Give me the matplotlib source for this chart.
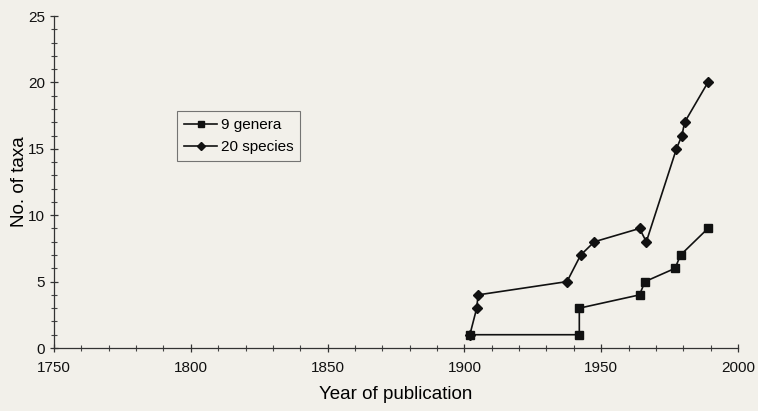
import matplotlib.pyplot as plt
from matplotlib.ticker import MultipleLocator

plt.rcParams['font.family'] = ['Liberation Sans', 'DejaVu Sans']

# cumulative counts by year of publication
genera_years = [1902, 1942, 1942, 1964, 1966, 1977, 1979, 1989]
genera_counts = [1, 1, 3, 4, 5, 6, 7, 9]

species_years = [1902, 1904.5, 1905, 1937.5, 1942.5, 1947.5, 1964, 1966.5,
                 1977.5, 1979.5, 1980.5, 1989]
species_counts = [1, 3, 4, 5, 7, 8, 9, 8, 15, 16, 17, 20]

bg = '#f2f0ea'
fig = plt.figure(figsize=(7.58, 4.11), dpi=100, facecolor=bg)
ax = fig.add_axes([54 / 758, 63 / 411, 684 / 758, 332 / 411], facecolor=bg)

ax.plot(species_years, species_counts, color='#111111', lw=1.2,
        marker='D', ms=4.6, label='20 species', zorder=2)
ax.plot(genera_years, genera_counts, color='#111111', lw=1.2,
        marker='s', ms=5.6, label='9 genera', zorder=3)

ax.set_xlim(1750, 2000)
ax.set_ylim(0, 25)
ax.xaxis.set_major_locator(MultipleLocator(50))
ax.xaxis.set_minor_locator(MultipleLocator(10))
ax.yaxis.set_major_locator(MultipleLocator(5))
ax.yaxis.set_minor_locator(MultipleLocator(1))
ax.tick_params(which='major', direction='inout', length=6, width=0.9,
               colors='#333333', labelsize=11, labelcolor='#111111')
ax.tick_params(which='minor', direction='inout', length=4, width=0.8,
               colors='#444444')
ax.tick_params(axis='x', pad=6)

for s in ['top', 'right']:
    ax.spines[s].set_visible(False)
for s in ['left', 'bottom']:
    ax.spines[s].set_color('#333333')
    ax.spines[s].set_linewidth(0.9)

ax.set_xlabel('Year of publication', fontsize=13.5, labelpad=8)
ax.set_ylabel('No. of taxa', fontsize=13.5, labelpad=0)

handles, labels = ax.get_legend_handles_labels()
leg = ax.legend(handles[::-1], labels[::-1], loc='upper left',
                bbox_to_anchor=((177 - 54) / 684, (348 - 111) / 332),
                fontsize=11, frameon=True, fancybox=False, handlelength=2.2,
                handletextpad=0.2, borderpad=0.45, borderaxespad=0,
                labelspacing=0.55, markerscale=0.8)
leg.get_frame().set_edgecolor('#555555')
leg.get_frame().set_facecolor(bg)
leg.get_frame().set_linewidth(0.8)

fig.savefig('out.png', dpi=100, facecolor=bg)
